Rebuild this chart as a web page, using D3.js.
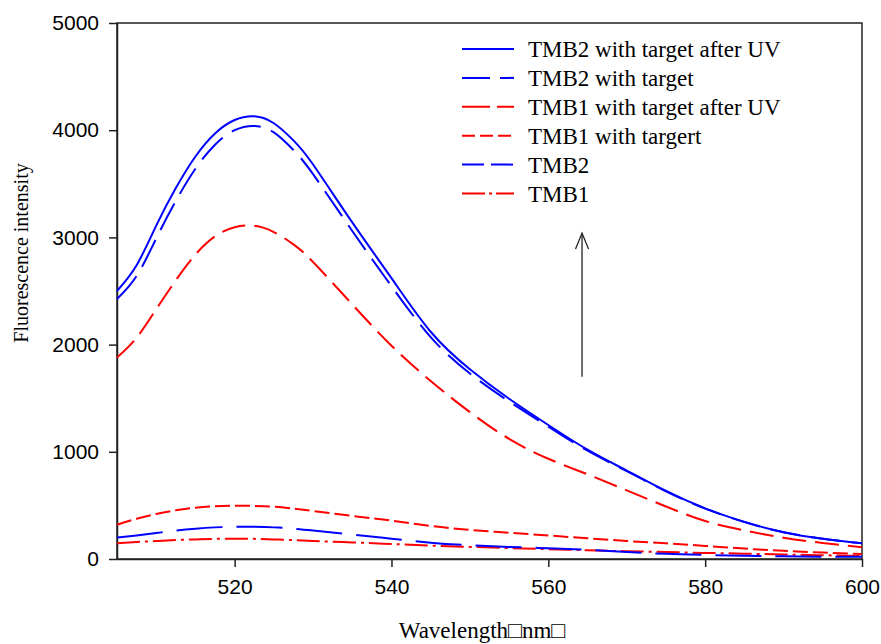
<!DOCTYPE html>
<html lang="en">
<head>
    <meta charset="UTF-8">
    <title>Fluorescence spectra</title>
    <script src="https://d3js.org/d3.v7.min.js"></script>
    <style>
        body {
            margin: 0;
            background: #fff;
        }
        .axis text {
            font-family: "Liberation Sans", Arial, sans-serif;
            font-size: 21px;
            fill: #000;
        }
        .axis line,
        .axis path {
            stroke: #222;
            stroke-width: 1.5px;
        }
        .frame {
            fill: none;
            stroke: #222;
            stroke-width: 1.5px;
        }
        .curve {
            fill: none;
            stroke-width: 2px;
        }
        .title {
            font-family: "Liberation Serif", "Times New Roman", serif;
            font-size: 20px;
            fill: #000;
        }
        .legend text {
            font-family: "Liberation Serif", "Times New Roman", serif;
            font-size: 23px;
            fill: #000;
        }
    </style>
</head>
<body>
    <svg width="881" height="644"></svg>
    <script>
        // wavelength grid (nm)
        var wavelengths = [505, 507.5, 510, 512.5, 515, 517.5, 520, 522.5, 525, 527.5, 530,
                           535, 540, 545, 550, 555, 560, 565, 570, 575, 580, 585, 590, 595, 600];

        var tmb2TargetUV = [2500, 2740, 3110, 3460, 3755, 3970, 4095, 4130, 4065, 3905, 3680,
                            3140, 2620, 2120, 1770, 1495, 1250, 1020, 825, 635, 472, 346, 250, 189, 146];
        var tmb2Target = [2425, 2640, 2990, 3340, 3640, 3865, 4000, 4040, 3980, 3815, 3590,
                          3060, 2545, 2070, 1730, 1470, 1235, 1010, 820, 632, 470, 345, 250, 189, 146];
        var tmb1TargetUV = [1880, 2065, 2330, 2600, 2840, 3010, 3095, 3108, 3050, 2935, 2770,
                            2375, 1990, 1660, 1370, 1120, 935, 790, 640, 490, 355, 267, 199, 150, 110];
        var tmb1Target = [320, 375, 420, 455, 478, 492, 497, 495, 488, 470, 448,
                          402, 358, 308, 272, 245, 220, 193, 168, 146, 122, 97, 76, 60, 47];
        var tmb2 = [200, 220, 242, 265, 283, 295, 300, 300, 295, 283, 266,
                    228, 190, 152, 128, 113, 100, 85, 66, 48, 38, 30, 25, 22, 20];
        var tmb1 = [146, 158, 168, 177, 183, 188, 190, 188, 183, 176, 168,
                    155, 140, 125, 113, 102, 92, 81, 73, 65, 57, 50, 42, 35, 28];

        var xTicks = [520, 540, 560, 580, 600];
        var yTicks = [0, 1000, 2000, 3000, 4000, 5000];

        // arrow annotation (wavelength, intensity from -> to)
        var arrowX = 564.3;
        var arrowY = [1700, 3040];

        var series = [
            {name: "TMB2 with target after UV", values: tmb2TargetUV, color: "#0000ff", dash: null, legendDash: null},
            {name: "TMB2 with target", values: tmb2Target, color: "#0000ff", dash: "30,11", legendDash: "28,10"},
            {name: "TMB1 with target after UV", values: tmb1TargetUV, color: "#ff0000", dash: "24,9", legendDash: "28,7"},
            {name: "TMB1 with targert", values: tmb1Target, color: "#ff0000", dash: "15,5", legendDash: "13,5"},
            {name: "TMB2", values: tmb2, color: "#0000ff", dash: "46,14", legendDash: "22,7"},
            {name: "TMB1", values: tmb1, color: "#ff0000", dash: "23,5,3,5", legendDash: "23,4,3,4"}
        ];

        var margin = {top: 23, right: 19, bottom: 85, left: 117},
            width = 881 - margin.left - margin.right,
            height = 644 - margin.top - margin.bottom;

        var x = d3.scaleLinear().domain([505, 600]).range([0, width]),
            y = d3.scaleLinear().domain([0, 5000]).range([height, 0]);

        var svg = d3.select("svg")
          .append("g")
            .attr("transform", "translate(" + margin.left + "," + margin.top + ")");

        // X axis
        svg.append("g")
            .attr("class", "axis")
            .attr("transform", "translate(0," + height + ")")
            .call(d3.axisBottom(x).tickValues(xTicks).tickSize(8).tickPadding(12).tickSizeOuter(0));

        // Y axis
        svg.append("g")
            .attr("class", "axis")
            .call(d3.axisLeft(y).tickValues(yTicks).tickFormat(d3.format("d"))
                .tickSize(8).tickPadding(10).tickSizeOuter(0));

        // box around plot
        svg.append("rect")
            .attr("class", "frame")
            .attr("x", 0)
            .attr("y", 0)
            .attr("width", width)
            .attr("height", height);

        // curves
        var line = d3.line()
            .x(function(d, i) { return x(wavelengths[i]); })
            .y(function(d) { return y(d); })
            .curve(d3.curveNatural);

        svg.selectAll(".curve")
            .data(series.slice().reverse())
          .enter().append("path")
            .attr("class", "curve")
            .attr("stroke", function(d) { return d.color; })
            .attr("stroke-dasharray", function(d) { return d.dash; })
            .attr("d", function(d) { return line(d.values); });

        // arrow
        var ax = x(arrowX);
        svg.append("line")
            .attr("x1", ax).attr("x2", ax)
            .attr("y1", y(arrowY[0])).attr("y2", y(arrowY[1]))
            .attr("stroke", "#222")
            .attr("stroke-width", 1.3);
        svg.append("path")
            .attr("d", "M" + (ax - 6.5) + "," + (y(arrowY[1]) + 16) + "L" + ax + "," + y(arrowY[1]) +
                       "L" + (ax + 6.5) + "," + (y(arrowY[1]) + 16))
            .attr("fill", "none")
            .attr("stroke", "#222")
            .attr("stroke-width", 1.3);

        // legend
        var legend = svg.append("g")
            .attr("class", "legend")
            .attr("transform", "translate(345,26)");

        var rows = legend.selectAll(".row")
            .data(series)
          .enter().append("g")
            .attr("class", "row")
            .attr("transform", function(d, i) { return "translate(0," + (i * 28.9) + ")"; });

        rows.append("line")
            .attr("x1", 0).attr("x2", 52)
            .attr("y1", 0).attr("y2", 0)
            .attr("stroke", function(d) { return d.color; })
            .attr("stroke-width", 2)
            .attr("stroke-dasharray", function(d) { return d.legendDash; });

        rows.append("text")
            .attr("x", 66)
            .attr("dy", "0.35em")
            .text(function(d) { return d.name; });

        // axis titles
        svg.append("text")
            .attr("class", "title")
            .attr("transform", "rotate(-90)")
            .attr("x", -230)
            .attr("y", -89)
            .style("text-anchor", "middle")
            .text("Fluorescence intensity");

        svg.append("text")
            .attr("class", "title")
            .attr("x", 365)
            .attr("y", 615)
            .style("text-anchor", "middle")
            .style("font-size", "23px")
            .text("Wavelength\u25a1nm\u25a1");
    </script>
</body>
</html>
